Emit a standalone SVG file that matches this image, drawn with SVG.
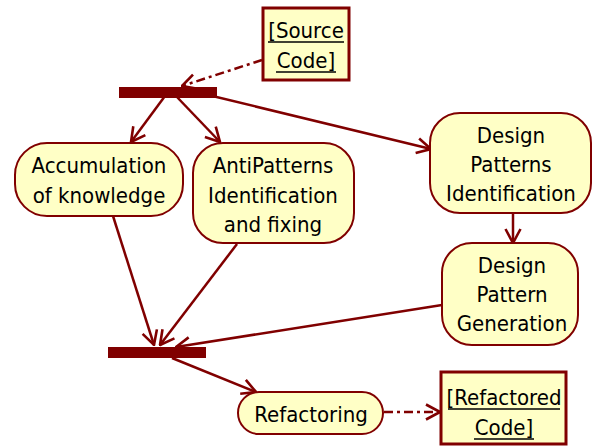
<svg xmlns="http://www.w3.org/2000/svg" width="593" height="446" viewBox="0 0 593 446">
  <style>
    .act { fill: #FFFFC6; stroke: #800000; stroke-width: 2; }
    .obj { fill: #FFFFC6; stroke: #800000; stroke-width: 3; }
    .bar { fill: #800000; }
    .lbl { font-family: "DejaVu Sans Condensed", "DejaVu Sans", sans-serif; font-size: 22px; fill: #000; text-anchor: middle; }
    .ul { stroke: #000; stroke-width: 1.6; }
    .flow { fill: none; stroke: #800000; stroke-width: 2.5; }
    .dash { stroke-dasharray: 9 4 3 4; }
  </style>
  <defs>
    <marker id="arrow" viewBox="0 0 16 18" refX="15" refY="9" markerWidth="16" markerHeight="18" markerUnits="userSpaceOnUse" orient="auto">
      <path d="M1,1.5 L15,9 L1,16.5" fill="none" stroke="#800000" stroke-width="2.6"/>
    </marker>
  </defs>

  <!-- connectors -->
  <g id="connectors">
    <line class="flow dash" x1="262" y1="60" x2="182" y2="86" marker-end="url(#arrow)"/>
    <line class="flow" x1="165" y1="96" x2="131" y2="142" marker-end="url(#arrow)"/>
    <line class="flow" x1="176" y1="96" x2="220" y2="142" marker-end="url(#arrow)"/>
    <line class="flow" x1="200" y1="93" x2="431" y2="149" marker-end="url(#arrow)"/>
    <line class="flow" x1="513" y1="213" x2="513" y2="243" marker-end="url(#arrow)"/>
    <line class="flow" x1="113" y1="216" x2="154" y2="345" marker-end="url(#arrow)"/>
    <line class="flow" x1="237" y1="244" x2="160" y2="345" marker-end="url(#arrow)"/>
    <line class="flow" x1="442" y1="305" x2="176" y2="347" marker-end="url(#arrow)"/>
    <line class="flow" x1="172" y1="358" x2="256" y2="392" marker-end="url(#arrow)"/>
    <line class="flow dash" x1="384" y1="412" x2="440" y2="412" marker-end="url(#arrow)"/>
  </g>

  <!-- synchronization bars -->
  <g id="fork">
    <rect class="bar" x="119" y="87" width="98" height="11"/>
  </g>
  <g id="join">
    <rect class="bar" x="108" y="347" width="98" height="11"/>
  </g>

  <!-- object nodes -->
  <g id="source-code">
    <rect class="obj" x="263" y="8" width="86" height="72"/>
    <text class="lbl" x="306" y="38">[Source</text>
    <line class="ul" x1="268" y1="42" x2="344" y2="42"/>
    <text class="lbl" x="306" y="68">Code]</text>
    <line class="ul" x1="276" y1="72" x2="336" y2="72"/>
  </g>
  <g id="refactored-code">
    <rect class="obj" x="441" y="372" width="125" height="72"/>
    <text class="lbl" x="504" y="405">[Refactored</text>
    <line class="ul" x1="448" y1="409" x2="560" y2="409"/>
    <text class="lbl" x="504" y="435">Code]</text>
    <line class="ul" x1="474" y1="439" x2="534" y2="439"/>
  </g>

  <!-- action nodes -->
  <g id="accumulation">
    <rect class="act" x="15" y="143" width="168" height="73" rx="32" ry="32"/>
    <text class="lbl" x="99" y="173">Accumulation</text>
    <text class="lbl" x="99" y="203">of knowledge</text>
  </g>
  <g id="antipatterns">
    <rect class="act" x="193" y="143" width="161" height="100" rx="30" ry="30"/>
    <text class="lbl" x="273" y="173">AntiPatterns</text>
    <text class="lbl" x="273" y="203">Identification</text>
    <text class="lbl" x="273" y="232">and fixing</text>
  </g>
  <g id="design-patterns-identification">
    <rect class="act" x="430" y="113" width="161" height="100" rx="30" ry="30"/>
    <text class="lbl" x="511" y="143">Design</text>
    <text class="lbl" x="511" y="172">Patterns</text>
    <text class="lbl" x="511" y="201">Identification</text>
  </g>
  <g id="design-pattern-generation">
    <rect class="act" x="442" y="243" width="136" height="102" rx="30" ry="30"/>
    <text class="lbl" x="512" y="273">Design</text>
    <text class="lbl" x="512" y="302">Pattern</text>
    <text class="lbl" x="512" y="331">Generation</text>
  </g>
  <g id="refactoring">
    <rect class="act" x="238" y="392" width="145" height="42" rx="21" ry="21"/>
    <text class="lbl" x="311" y="422">Refactoring</text>
  </g>
</svg>
